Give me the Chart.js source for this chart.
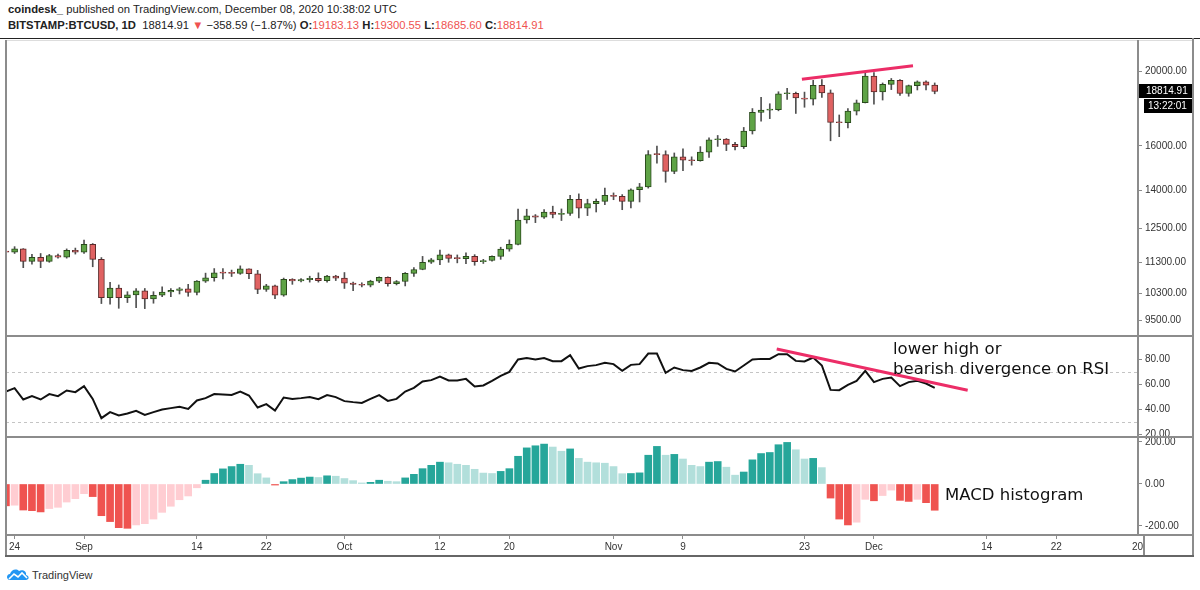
<!DOCTYPE html>
<html>
<head>
<meta charset="utf-8">
<script src="https://cdn.jsdelivr.net/npm/chart.js@4.4.1/dist/chart.umd.min.js"></script>
<style>
  body { margin: 0; background: #fff; }
  #wrap { position: relative; width: 1200px; height: 590px; overflow: hidden; font-family: "Liberation Sans", Arial, sans-serif; }
  .abs { position: absolute; }
  .hl { position: absolute; height: 0; border-top: 2px solid #8c8c8c; }
  .vl { position: absolute; width: 0; border-left: 2px solid #8c8c8c; }
  .note { position: absolute; font-family: "DejaVu Sans", sans-serif; font-size: 16.5px; line-height: 19.5px; color: #111; white-space: nowrap; }
  .hdr { position: absolute; left: 8px; font-size: 11.25px; color: #222; white-space: nowrap; }
  .red { color: #ef5350; }
</style>
</head>
<body>
<div id="wrap">
  <div class="hdr" style="top:3px"><b>coindesk_</b> published on TradingView.com, December 08, 2020 10:38:02 UTC</div>
  <div class="hdr" id="ohlc" style="top:19px"></div>

  <canvas id="cPrice" class="abs" style="left:0;top:40px" width="1200" height="296"></canvas>
  <canvas id="cRsi" class="abs" style="left:0;top:336px" width="1200" height="101"></canvas>
  <canvas id="cMacd" class="abs" style="left:0;top:437px" width="1200" height="118"></canvas>

  <!-- pane frame -->
  <div class="hl" style="left:0;top:38px;width:1200px;border-top:1px solid #222"></div>
  <div class="hl" style="left:6px;top:40px;width:1187px;border-top:1px solid #ddd"></div>
  <div class="vl" style="left:5px;top:40px;height:516px"></div>
  <div class="vl" style="left:1137px;top:40px;height:495px"></div>
  <div class="vl" style="left:1143px;top:535px;height:21px"></div>
  <div class="vl" style="left:1192px;top:38px;height:518px"></div>
  <div class="hl" style="left:5px;top:335px;width:1189px"></div>
  <div class="hl" style="left:5px;top:436px;width:1189px"></div>
  <div class="hl" style="left:5px;top:534px;width:1189px"></div>
  <div class="hl" style="left:5px;top:555px;width:1189px;border-top-color:#666"></div>

  <div class="note" style="left:893px;top:339px">lower high or<br>bearish divergence on RSI</div>
  <div class="note" style="left:945px;top:485px">MACD histogram</div>

  <svg class="abs" style="left:6px;top:568px" width="24" height="13" viewBox="0 0 24 13">
    <path d="M4 12 C0 12 0 6 4 6 C5 2 10 0 13 3 C16 1 21 3 20 7 C24 8 23 12 20 12 Z" fill="#2196f3"/>
    <polyline points="3,11 8,6 12,9 16,5 21,10" fill="none" stroke="#fff" stroke-width="1.6"/>
  </svg>
  <div class="abs" style="left:32px;top:569px;font-size:11px;color:#333">TradingView</div>
</div>

<script>
// Bitstamp BTCUSD daily candles, 23 Aug - 8 Dec 2020
const firstDay = -1; // day index of first candle, 0 = Aug 24
const open = [11680, 11650, 11760, 11330, 11470, 11330, 11530, 11470, 11710, 11650,
  11920, 11400, 10170, 10460, 10170, 10250, 10380, 10130, 10240, 10340,
  10390, 10440, 10330, 10680, 10790, 10950, 10940, 10930, 11080, 10920,
  10420, 10530, 10240, 10740, 10690, 10730, 10770, 10700, 10840, 10780,
  10620, 10580, 10550, 10680, 10800, 10600, 10670, 10930, 11060, 11300,
  11380, 11550, 11430, 11425, 11500, 11320, 11360, 11500, 11750, 11920,
  12820, 12980, 12930, 13130, 13040, 13070, 13640, 13280, 13460, 13550,
  13800, 13760, 13550, 14030, 14150, 15590, 15580, 14820, 15480, 15330,
  15300, 15700, 16290, 16320, 16070, 15960, 16720, 17680, 17800, 17820,
  18690, 18710, 18450, 18390, 19160, 18740, 17160, 17140, 17740, 18190,
  19700, 18790, 19220, 19450, 18700, 19150, 19370, 19183.13];
const high = [11720, 11840, 11770, 11570, 11600, 11570, 11580, 11760, 11790, 12070,
  11950, 11460, 10640, 10560, 10350, 10450, 10450, 10350, 10500, 10450,
  10480, 10580, 10700, 10940, 11090, 11090, 11040, 11180, 11080, 11030,
  10580, 10560, 10780, 10760, 10760, 10840, 10950, 10870, 10870, 10960,
  10650, 10630, 10710, 10820, 10820, 10700, 10960, 11120, 11500, 11430,
  11720, 11580, 11550, 11620, 11560, 11400, 11520, 11820, 12080, 13240,
  13240, 13030, 13230, 13360, 13250, 13800, 13860, 13640, 13650, 14100,
  13900, 13830, 14070, 14300, 15770, 15990, 15760, 15660, 15860, 15480,
  15960, 16380, 16500, 16350, 16170, 16900, 17880, 18490, 18140, 18800,
  18990, 18780, 18780, 19450, 19490, 18900, 17540, 17880, 18340, 19890,
  19900, 19300, 19560, 19500, 19180, 19420, 19420, 19300.55];
const low = [11600, 11600, 11120, 11240, 11120, 11300, 11440, 11440, 11580, 11600,
  11150, 9990, 9970, 9850, 10020, 9870, 9840, 10000, 10200, 10200,
  10280, 10210, 10250, 10640, 10680, 10750, 10830, 10900, 10760, 10290,
  10360, 10140, 10210, 10580, 10660, 10650, 10650, 10650, 10700, 10450,
  10380, 10500, 10500, 10630, 10520, 10560, 10530, 10830, 11050, 11260,
  11220, 11300, 11280, 11250, 11200, 11260, 11340, 11400, 11680, 11900,
  12700, 12720, 12880, 12900, 12800, 13000, 12900, 12990, 13130, 13420,
  13620, 13220, 13290, 13530, 14100, 15190, 14350, 14720, 14850, 15100,
  15280, 15450, 15970, 15770, 15800, 15870, 16570, 17220, 17350, 17760,
  18370, 17620, 17950, 18070, 18480, 16240, 16440, 16880, 17540, 18180,
  18110, 18340, 18920, 18600, 18550, 18900, 18900, 18685.60];
const close = [11650, 11760, 11330, 11470, 11330, 11530, 11470, 11710, 11650, 11920,
  11400, 10170, 10460, 10170, 10250, 10380, 10130, 10240, 10340, 10390,
  10440, 10330, 10680, 10790, 10950, 10940, 10930, 11080, 10920, 10420,
  10530, 10240, 10740, 10690, 10730, 10770, 10700, 10840, 10780, 10620,
  10580, 10550, 10680, 10800, 10600, 10670, 10930, 11060, 11300, 11380,
  11550, 11430, 11425, 11500, 11320, 11360, 11500, 11750, 11920, 12820,
  12980, 12930, 13130, 13040, 13070, 13640, 13280, 13460, 13550, 13800,
  13760, 13550, 14030, 14150, 15590, 15580, 14820, 15480, 15330, 15300,
  15700, 16290, 16320, 16070, 15960, 16720, 17680, 17800, 17820, 18690,
  18710, 18450, 18390, 19160, 18740, 17160, 17140, 17740, 18190, 19700,
  18790, 19220, 19450, 18700, 19150, 19370, 19173.50, 18814.91];
const rsi = [54.0, 56.7, 47.6, 50.3, 47.6, 51.9, 50.3, 54.8, 53.5, 58.3,
  48.1, 32.7, 37.5, 34.8, 36.4, 38.5, 35.3, 37.5, 39.6, 40.7,
  41.7, 40.1, 46.8, 48.7, 51.9, 51.6, 51.3, 54.0, 50.8, 41.2,
  43.9, 38.8, 49.2, 48.1, 48.7, 49.5, 47.9, 51.1, 49.5, 46.3,
  45.5, 44.9, 48.1, 51.1, 46.5, 48.1, 54.0, 56.9, 62.0, 63.1,
  66.0, 62.8, 62.8, 64.1, 58.0, 58.8, 62.5, 66.5, 69.7, 79.6,
  80.7, 79.6, 80.7, 78.3, 78.3, 83.1, 72.4, 74.3, 75.1, 76.9,
  75.9, 70.5, 75.3, 75.9, 84.4, 84.4, 68.9, 73.2, 71.1, 70.5,
  73.2, 76.9, 76.4, 72.1, 70.0, 74.8, 79.6, 80.1, 80.1, 83.9,
  83.9, 78.5, 78.0, 81.2, 74.8, 55.3, 55.1, 59.3, 62.5, 70.5,
  61.5, 64.1, 65.2, 58.3, 61.5, 62.5, 60.4, 56.9];
const macdHist = [-104, -101, -124, -127, -133, -117, -111, -86, -70, -46,
  -60, -151, -179, -208, -211, -195, -189, -167, -135, -106,
  -75, -57, -18, 18, 50, 72, 83, 94, 89, 49,
  29, -5, 11, 21, 28, 33, 31, 39, 37, 26,
  16, 5, 8, 18, 13, 11, 29, 46, 73, 89,
  104, 101, 94, 89, 70, 52, 50, 60, 73, 132,
  172, 182, 190, 176, 156, 167, 122, 104, 101, 99,
  83, 49, 50, 53, 137, 179, 137, 141, 119, 89,
  83, 104, 107, 80, 42, 57, 115, 145, 150, 187,
  198, 163, 119, 122, 78, -67, -167, -195, -182, -73,
  -80, -55, -29, -78, -83, -73, -89, -125];

const tickDays = [0, 8, 21, 29, 38, 49, 57, 69, 77, 91, 99, 112, 120, 130];
const tickLabels = ['24', 'Sep', '14', '22', 'Oct', '12', '20', 'Nov', '9', '23', 'Dec', '14', '22', '2021'];
const priceTicks = [9500, 10300, 11300, 12500, 14000, 16000, 20000];
const rsiTicks = [20, 40, 60, 80];
const rsiBands = [70, 30];
const macdTicks = [-200, 0, 200];
// drawn trend lines (day index, value)
const priceTrend = [{x: 90.7, y: 19510}, {x: 103.5, y: 20320}];
const rsiTrend = [{x: 87.8, y: 88}, {x: 109.8, y: 55}];
const countdown = '13:22:01';

// visible window
const xMin = -0.99, xMax = 129.42;

Chart.defaults.font.family = '"Liberation Sans", Arial, sans-serif';
Chart.defaults.font.size = 10;
Chart.defaults.color = '#333';

const n = close.length;
const fmt = v => v.toFixed(2);
const last = n - 1;
const chg = close[last] - close[last - 1];
document.getElementById('ohlc').innerHTML =
  '<b>BITSTAMP:BTCUSD, 1D</b>&nbsp; ' + fmt(close[last]) + ' <span class="red">&#9660;</span> ' +
  (chg < 0 ? '\u2212' : '+') + fmt(Math.abs(chg)) + ' (' + (chg < 0 ? '\u2212' : '+') +
  fmt(Math.abs(chg) / close[last - 1] * 100) + '%) ' +
  '<b>O:</b><span class="red">' + fmt(open[last]) + '</span> ' +
  '<b>H:</b><span class="red">' + fmt(high[last]) + '</span> ' +
  '<b>L:</b><span class="red">' + fmt(low[last]) + '</span> ' +
  '<b>C:</b><span class="red">' + fmt(close[last]) + '</span>';

const dayOf = i => i + firstDay;

function yAxis(ticks, min, max, type) {
  return {
    type: type || 'linear', position: 'right', min: min, max: max, bounds: 'data',
    border: {display: false},
    grid: {drawOnChartArea: false, drawTicks: true, tickLength: 4, color: '#8c8c8c'},
    ticks: {autoSkip: false, padding: 3, callback: v => Number(v).toFixed(2)},
    afterBuildTicks: s => { s.ticks = ticks.map(v => ({value: v})); },
    afterFit: s => { s.width = 62; s.paddingTop = 0; s.paddingBottom = 0; }
  };
}
function xAxis(show) {
  return {
    type: 'linear', min: xMin, max: xMax, offset: false, display: show, bounds: 'data',
    border: {display: false},
    grid: {drawOnChartArea: false, drawTicks: true, tickLength: 4, color: '#8c8c8c', offset: false},
    ticks: {autoSkip: false, maxRotation: 0, padding: 2, callback: (v, i) => tickLabels[i]},
    afterBuildTicks: s => { s.ticks = tickDays.map(v => ({value: v})); },
    afterFit: s => { s.height = show ? 20 : 0; s.paddingLeft = 0; s.paddingRight = 0; }
  };
}
const base = {
  responsive: false, animation: false, events: [],
  layout: {padding: {left: 6, right: 0, top: 0, bottom: 0}},
  plugins: {legend: {display: false}, tooltip: {enabled: false}}
};

// ---- price pane ----
const up = close.map((c, i) => c >= open[i]);
new Chart(document.getElementById('cPrice'), {
  type: 'bar',
  data: {
    datasets: [
      {
        type: 'line', data: priceTrend, borderColor: '#ec2d67', borderWidth: 3,
        pointRadius: 0, order: 0
      },
      {
        data: open.map((o, i) => ({x: dayOf(i), y: [Math.min(o, close[i]), Math.max(o, close[i])]})),
        backgroundColor: up.map(u => u ? '#5fa346' : '#e06262'),
        borderColor: up.map(u => u ? '#2a4a1c' : '#5b2a2a'),
        borderWidth: 1, borderSkipped: false, barThickness: 6, minBarLength: 1,
        grouped: false, order: 1
      },
      {
        data: high.map((h, i) => ({x: dayOf(i), y: [low[i], h]})),
        backgroundColor: '#505050', borderWidth: 0, barThickness: 1,
        grouped: false, order: 2
      }
    ]
  },
  options: Object.assign({}, base, {
    scales: {
      x: xAxis(false),
      y: yAxis(priceTicks, 9068, 21940, 'logarithmic')
    }
  }),
  plugins: [{
    id: 'lastPrice',
    afterDraw(chart) {
      const {ctx, chartArea, scales} = chart;
      const y = Math.round(scales.y.getPixelForValue(close[last]));
      ctx.save();
      ctx.fillStyle = '#000';
      ctx.fillRect(chartArea.right, y - 7, 55, 14);
      ctx.fillRect(chartArea.right + 6, y + 8, 49, 14);
      ctx.fillStyle = '#fff';
      ctx.font = '10px "Liberation Sans", Arial, sans-serif';
      ctx.textBaseline = 'middle';
      ctx.fillText(fmt(close[last]), chartArea.right + 8, y);
      ctx.fillText(countdown, chartArea.right + 10, y + 15);
      ctx.restore();
    }
  }]
});

// ---- RSI pane ----
new Chart(document.getElementById('cRsi'), {
  type: 'line',
  data: {
    datasets: [
      {data: rsiTrend, borderColor: '#ec2d67', borderWidth: 3, pointRadius: 0},
      {data: rsi.map((v, i) => ({x: dayOf(i), y: v})), borderColor: '#111', borderWidth: 2,
        pointRadius: 0, tension: 0}
    ]
  },
  options: Object.assign({}, base, {
    scales: {x: xAxis(false), y: yAxis(rsiTicks, 17.6, 98.4)}
  }),
  plugins: [{
    id: 'bands',
    beforeDatasetsDraw(chart) {
      const {ctx, chartArea, scales} = chart;
      ctx.save();
      ctx.strokeStyle = '#c4c4c4';
      ctx.lineWidth = 1;
      ctx.setLineDash([3, 3]);
      rsiBands.forEach(b => {
        const y = Math.round(scales.y.getPixelForValue(b)) + 0.5;
        ctx.beginPath();
        ctx.moveTo(chartArea.left, y);
        ctx.lineTo(chartArea.right, y);
        ctx.stroke();
      });
      ctx.restore();
    }
  }]
});

// ---- MACD histogram pane ----
const macdColors = macdHist.map((v, i) => {
  const prev = i > 0 ? macdHist[i - 1] : 0;
  if (v >= 0) return v >= prev ? '#26a69a' : '#b2dfdb';
  return v < prev ? '#ef5350' : '#ffcdd2';
});
new Chart(document.getElementById('cMacd'), {
  type: 'bar',
  data: {
    datasets: [{
      data: macdHist.map((v, i) => ({x: dayOf(i), y: v})),
      backgroundColor: macdColors, borderWidth: 0, barThickness: 7, grouped: false
    }]
  },
  options: Object.assign({}, base, {
    scales: {x: xAxis(true), y: yAxis(macdTicks, -242.9, 223.8)}
  }),
  plugins: [{
    id: 'clipTime',
    afterDraw(chart) {
      const {ctx, chartArea} = chart;
      ctx.save();
      ctx.fillStyle = '#fff';
      ctx.fillRect(chartArea.right + 6, chartArea.bottom + 1, 56, 20);
      ctx.restore();
    }
  }]
});
</script>
</body>
</html>
